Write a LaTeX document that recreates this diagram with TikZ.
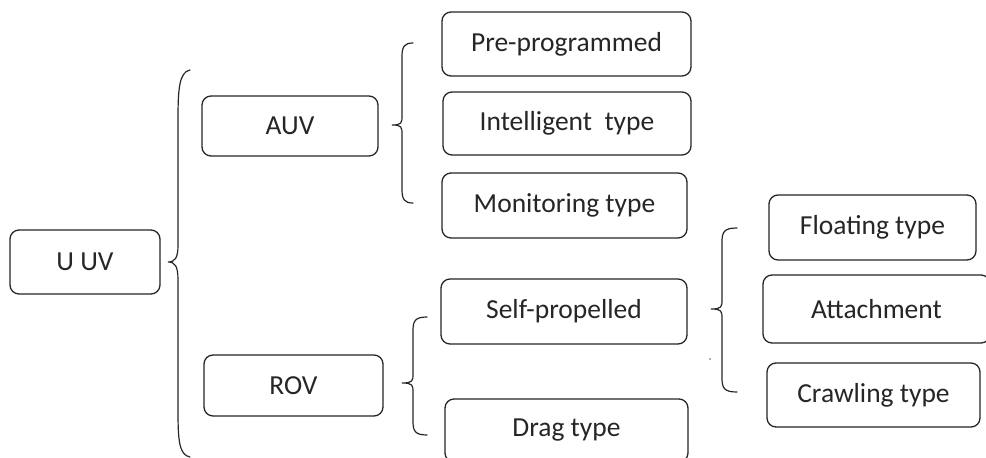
\documentclass[tikz,border=0pt]{standalone}
\usepackage{fontspec}
\setmainfont{Carlito}
\definecolor{ink}{HTML}{262626}
\tikzset{
  box/.style={draw=ink, line width=1.3pt, rounded corners=9pt, inner sep=0pt,
              text=ink, font=\fontsize{27.5}{33}\selectfont},
  brace/.style={draw=ink, line width=1.2pt, line cap=round}
}
% curly brace: #1 end x, #2 spine x, #3 tip x, #4 top y, #5 tip y, #6 bottom y
\newcommand\curlybrace[6]{%
  \draw[brace] (#1,#4) .. controls (#2+2,#4) and (#2,#4+4) .. (#2,#4+14)
    -- (#2,#5-10) .. controls (#2,#5-2) and (#2,#5) .. (#3,#5)
    .. controls (#2,#5) and (#2,#5+2) .. (#2,#5+10)
    -- (#2,#6-14) .. controls (#2,#6-4) and (#2+2,#6) .. (#1,#6);}
\begin{document}
\begin{tikzpicture}[x=1pt,y=-1pt]
\useasboundingbox (0,0) rectangle (986,458);
\clip (0,0) rectangle (986,458);
\fill[white] (0,0) rectangle (986,458);

% level 0
\node[box, minimum width=150pt, minimum height=64pt] (uuv) at (85,262) {U UV};
% level 1
\node[box, minimum width=176pt, minimum height=60pt] (auv) at (290,126) {AUV};
\node[box, minimum width=179pt, minimum height=61pt] (rov) at (293.5,385.5) {ROV};
% level 2
\node[box, minimum width=249pt, minimum height=64pt] (pre) at (566.5,44) {Pre-programmed};
\node[box, minimum width=248pt, minimum height=63pt] (intel) at (567,123.5) {Intelligent\ \ type};
\node[box, minimum width=245pt, minimum height=65pt] (mon) at (564.5,205.5) {Monitoring type};
\node[box, minimum width=246pt, minimum height=65pt] (self) at (564,311.5) {Self-propelled};
\node[box, minimum width=243pt, minimum height=63pt] (drag) at (566.5,430.5) {Drag type};
% level 3
\node[box, minimum width=207pt, minimum height=65pt] (float) at (872.5,227.5) {Floating type};
\node[box, minimum width=227pt, minimum height=68pt] (attach) at (876.5,309) {Attachment};
\node[box, minimum width=213pt, minimum height=64pt] (crawl) at (873.5,395) {Crawling type};

% braces grouping each level
\draw[brace] (190,70) .. controls (179,72) and (178,90) .. (178,120)
  -- (178,245) .. controls (178,258) and (175,262) .. (168,262)
  .. controls (175,262) and (178,266) .. (178,280)
  -- (178,410) .. controls (178,440) and (179,455) .. (190,457);
\curlybrace{413}{402}{392}{43}{125}{203}
\curlybrace{427}{413}{402}{317}{383}{435}
\curlybrace{737}{722}{711}{228}{309}{392}

\fill[ink!70] (710,359) circle (0.8);
\end{tikzpicture}
\end{document}
